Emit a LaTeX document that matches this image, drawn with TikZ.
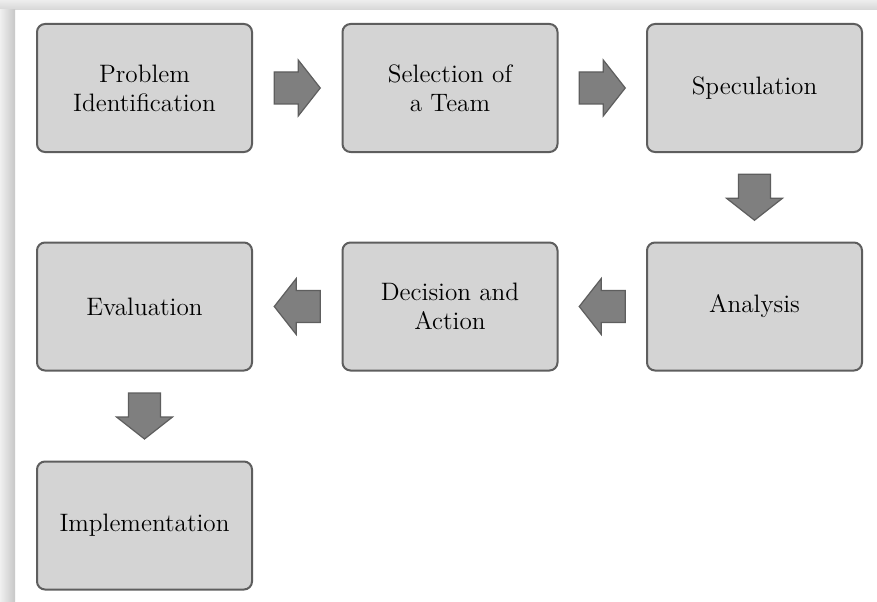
\documentclass[tikz,border=0pt]{standalone}
\usetikzlibrary{calc}
\definecolor{boxfill}{HTML}{D4D4D4}
\definecolor{boxline}{HTML}{5E5E5E}
\definecolor{arrowfill}{HTML}{7F7F7F}
\begin{document}
\begin{tikzpicture}[x=1pt, y=1pt, font=\fontsize{12.6}{14.5}\selectfont, line join=round,
    stepbox/.style={draw=boxline, line width=1pt, fill=boxfill, rounded corners=4pt,
        minimum width=107.5pt, minimum height=64pt, align=center, inner sep=0pt},
    blockarrow/.pic={\draw[draw=boxline, line width=0.6pt, fill=arrowfill, line join=miter]
        (-11.5,-8)--(0.5,-8)--(0.5,-14)--(11.5,0)--(0.5,14)--(0.5,8)--(-11.5,8)--cycle;}]
    \def\W{438.5}\def\H{300.5}
    \useasboundingbox (0,0) rectangle (\W,\H);
    \fill[white] (0,0) rectangle (\W,\H);
    \shade[top color=black!7, bottom color=black!16] (0,\H-5) rectangle (\W,\H);
    \shade[left color=black!6, right color=black!22] (0,0) rectangle (7.5,\H-5);
    \def\ca{72.25}\def\cb{225}\def\cc{377.25}
    \def\ra{256.5}\def\rb{147.25}\def\rc{37.75}
    \node[stepbox] (prob) at (\ca,\ra) {Problem\\Identification};
    \node[stepbox] (team) at (\cb,\ra) {Selection of\\a Team};
    \node[stepbox] (spec) at (\cc,\ra) {Speculation};
    \node[stepbox] (anal) at (\cc,\rb) {Analysis};
    \node[stepbox] (deci) at (\cb,\rb) {Decision and\\Action};
    \node[stepbox] (eval) at (\ca,\rb) {Evaluation};
    \node[stepbox] (impl) at (\ca,\rc) {Implementation};
    \path ($(prob.east)!0.5!(team.west)$) pic {blockarrow};
    \path ($(team.east)!0.5!(spec.west)$) pic {blockarrow};
    \path ($(spec.south)!0.5!(anal.north)$) pic[rotate=-90] {blockarrow};
    \path ($(anal.west)!0.5!(deci.east)$) pic[rotate=180] {blockarrow};
    \path ($(deci.west)!0.5!(eval.east)$) pic[rotate=180] {blockarrow};
    \path ($(eval.south)!0.5!(impl.north)$) pic[rotate=-90] {blockarrow};
\end{tikzpicture}
\end{document}
